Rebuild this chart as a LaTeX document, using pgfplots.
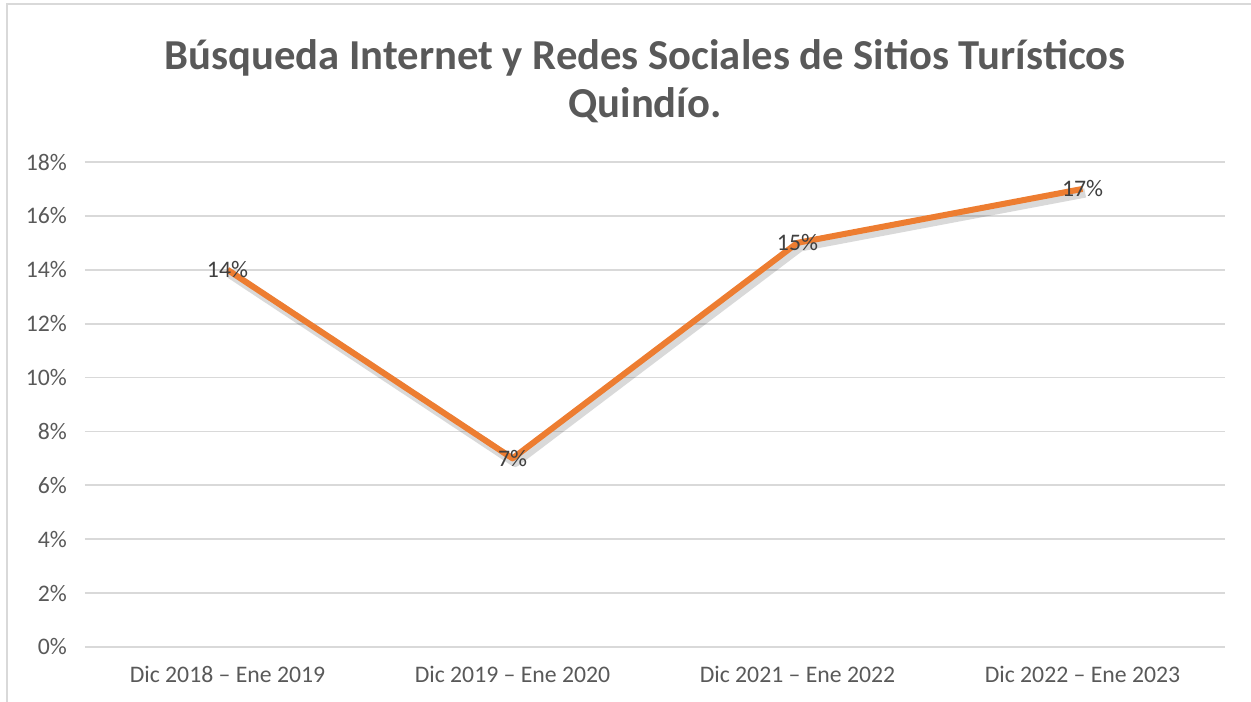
\documentclass[border=0pt]{standalone}
\usepackage{pgfplots}
\pgfplotsset{compat=1.18}
\usepackage{fontspec}
\setmainfont{Carlito}
\definecolor{serie}{HTML}{ED7D31}
\definecolor{texto}{HTML}{595959}
\definecolor{etiqueta}{HTML}{404040}
\definecolor{rejilla}{HTML}{D9D9D9}
\begin{document}
\begin{tikzpicture}
\useasboundingbox (-63.75pt,-41.25pt) rectangle (874.5pt,485.25pt);
% borde del area del grafico
\draw[rejilla, line width=1.5pt] (-58.5pt,-41.25pt) -- (-58.5pt,118.5pt+363.75pt) -- (874.5pt,118.5pt+363.75pt);
\begin{axis}[
    scale only axis,
    width=855pt,
    height=363.75pt,
    xmin=-0.5, xmax=3.5,
    ymin=0, ymax=18,
    xtick={0,1,2,3},
    xticklabels={Dic 2018 – Ene 2019, Dic 2019 – Ene 2020, Dic 2021 – Ene 2022, Dic 2022 – Ene 2023},
    ytick={0,2,...,18},
    yticklabels={0\%,2\%,4\%,6\%,8\%,10\%,12\%,14\%,16\%,18\%},
    /pgf/number format/assume math mode=true,
    axis line style={draw=none},
    major tick style={draw=none},
    ymajorgrids,
    major grid style={rejilla, line width=1.3pt},
    tick label style={font=\fontsize{17.8}{21}\selectfont, text=texto},
    yticklabel style={xshift=-10pt},
    xticklabel style={yshift=-11pt},
    clip=false,
]
\addplot[black, opacity=0.15, line width=7pt, line join=round, shift={(2pt,-3pt)}] coordinates {
    (0,14) (1,7) (2,15) (3,17)
};
\addplot[serie, line width=4.5pt, line join=round,
    nodes near coords={\pgfmathprintnumber{\pgfplotspointmeta}\%},
    every node near coord/.append style={anchor=center, font=\fontsize{17.8}{21}\selectfont, text=etiqueta, opacity=1}
] coordinates {
    (0,14) (1,7) (2,15) (3,17)
};
\end{axis}
\node[font=\fontsize{32}{38}\bfseries, text=texto] at (420pt,363.75pt+78.25pt) {Búsqueda Internet y Redes Sociales de Sitios Turísticos};
\node[font=\fontsize{32}{38}\bfseries, text=texto] at (420pt,363.75pt+42.25pt) {Quindío.};
\end{tikzpicture}
\end{document}
